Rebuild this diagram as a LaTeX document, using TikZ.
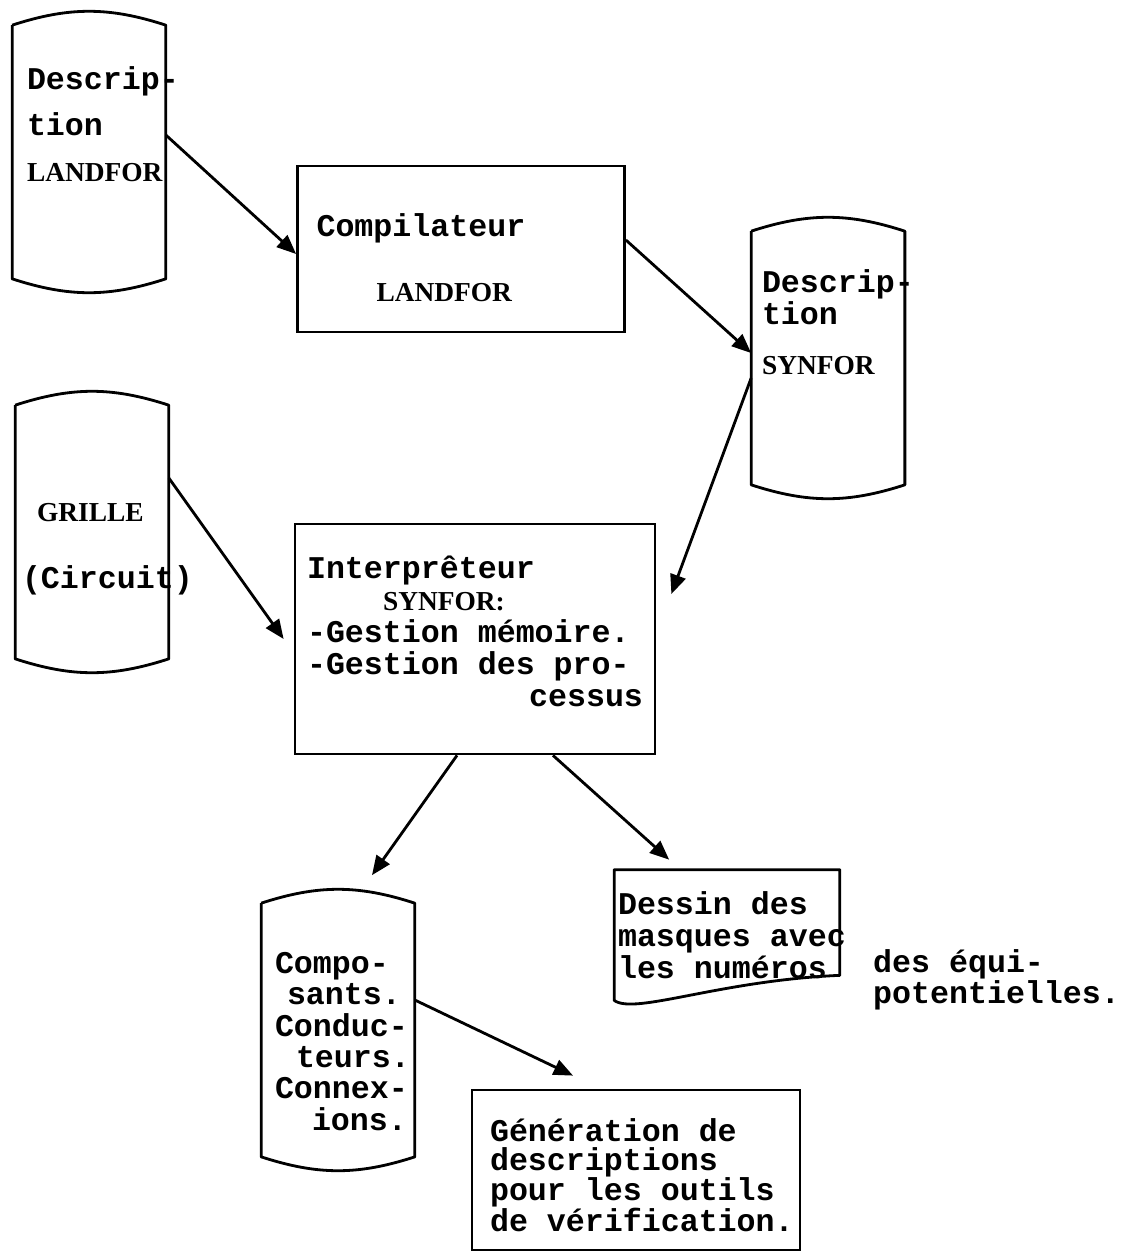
\documentclass[tikz,border=0pt]{standalone}
\usepackage{fontspec}
\usetikzlibrary{positioning,arrows.meta}
\newfontfamily\tw{Liberation Mono}[WordSpace={1,0,0}]
\newfontfamily\pf{Liberation Serif}
\newcommand{\propword}[1]{{\pf\bfseries\fontsize{15.6}{18.2}\selectfont #1}}
\begin{document}
\begin{tikzpicture}[x=0.02cm, y=-0.02cm,
  every node/.style={font=\tw\bfseries\fontsize{18}{18.2}\selectfont},
  store/.style={minimum width=3.06cm, minimum height=5.06cm, inner sep=0pt},
  box/.style={draw, line width=1.6pt, align=flush left, execute at begin node={\hyphenpenalty=10000 }},
  txt/.style={align=left, inner sep=0pt},
  arr/.style={line width=1.6pt, -{Triangle[length=11pt,width=9pt]}}]
\useasboundingbox (0,0) rectangle (1125,1254);

% stores
\node[store] (desclf) at (89,152) {};
\node[txt, font=\tw\bfseries\fontsize{18}{26}\selectfont, below right=0.83cm and 0.29cm of desclf.north west] (desclftxt) {Descrip-\\tion\\\propword{LANDFOR}};
\node[store] (descsyn) at (828,358) {};
\node[txt, below right=0.77cm and 0.21cm of descsyn.north west] (descsyntxt) {Descrip-\\tion\\[10pt]\propword{SYNFOR}};
\node[store] (grille) at (92,532) {};
\node[txt, below right=1.95cm and 0.13cm of grille.north west] (grilletxt) {\hspace*{0.3cm}\propword{GRILLE}\\[20pt](Circuit)};
\node[store] (compos) at (338,1030) {};
\node[txt, font=\tw\bfseries\fontsize{18}{17.9}\selectfont, below right=0.97cm and 0.27cm of compos.north west] (compostxt) {Compo-\\\hspace*{0.24cm}sants.\\Conduc-\\\hspace*{0.42cm}teurs.\\Connex-\\\hspace*{0.74cm}ions.};
\foreach \st in {desclf,descsyn,grille,compos}
  \draw[line width=1.6pt, line join=round] (\st.north west) -- (\st.south west) to[bend right=18] (\st.south east) -- (\st.north east) to[bend right=18] (\st.north west);

% boxes
\node[box, minimum width=6.54cm, minimum height=3.32cm, text width=5.78cm, inner xsep=0.38cm] (comp) at (461,249) {\rule{0pt}{22.5pt}Compilateur\\[18.8pt]\hspace*{1.2cm}\propword{LANDFOR}};
\node[box, minimum width=7.2cm, minimum height=4.6cm, text width=6.72cm, inner xsep=0.24cm] (interp) at (475,639) {Interprêteur\\\hspace*{1.52cm}\propword{SYNFOR:}\\-Gestion mémoire.\\-Gestion des pro-\\\hspace*{\fill}cessus\rule[-9pt]{0pt}{0pt}};
\node[box, minimum width=6.56cm, minimum height=3.2cm, text width=5.84cm, inner xsep=0.36cm, font=\tw\bfseries\fontsize{18}{16.8}\selectfont] (gen) at (636,1170) {\rule{0pt}{19pt}Génération de\\descriptions\\pour les outils\\de~vérification.};

% document
\node[txt, align=flush left, minimum width=4.5cm, minimum height=2.6cm, text width=4.36cm, inner xsep=0.07cm, execute at begin node={\hyphenpenalty=10000 }] (dessin) at (727,935) {Dessin des\\masques~avec\\les numéros};
\draw[line width=1.6pt, line join=round] (dessin.north west) -- (dessin.north east) -- ([yshift=0.5cm]dessin.south east) .. controls ([xshift=-2.4cm,yshift=0.4cm]dessin.south east) and ([xshift=0.4cm,yshift=-0.3cm]dessin.south west) .. (dessin.south west) -- cycle;
\node[txt, below right=1.6cm and 0.66cm of dessin.north east] (equip) {des équi-\\[-1pt]potentielles.};

% arrows
\draw[arr] ([yshift=0.34cm]desclf.east) -- ([yshift=-0.1cm]comp.west);
\draw[arr] ([yshift=0.18cm]comp.east) -- ([yshift=0.1cm]descsyn.west);
\draw[arr] ([yshift=-0.4cm]descsyn.west) -- ([xshift=0.3cm,yshift=0.9cm]interp.east);
\draw[arr] ([yshift=1.08cm]grille.east) -- ([xshift=-0.2cm]interp.west);
\draw[arr] ([xshift=-0.36cm]interp.south) -- ([xshift=0.68cm,yshift=0.56cm]compos.north);
\draw[arr] ([xshift=1.56cm]interp.south) -- ([xshift=1.1cm,yshift=0.2cm]dessin.north west);
\draw[arr] ([yshift=0.6cm]compos.east) -- ([xshift=-1.26cm,yshift=0.26cm]gen.north);
\end{tikzpicture}
\end{document}
